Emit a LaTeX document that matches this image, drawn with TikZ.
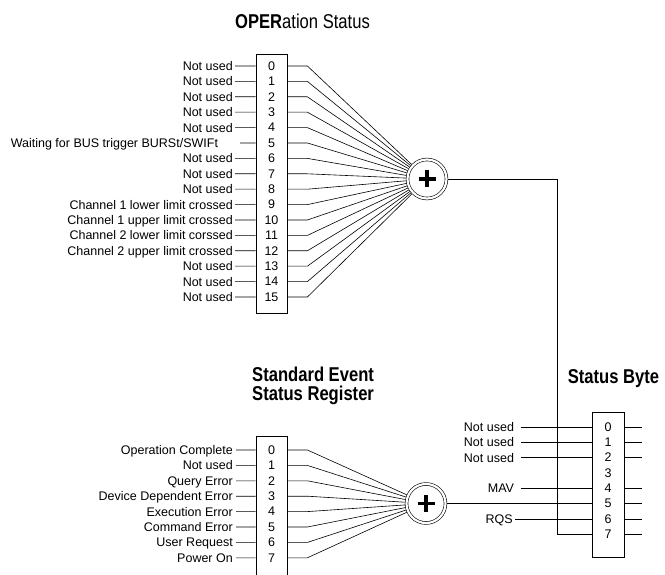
\documentclass[tikz,border=0pt]{standalone}
\usepackage{fontspec}
\setmainfont{Liberation Sans}
\newfontfamily\titlefont[FakeStretch=0.83]{Liberation Sans}

\tikzset{
  lab/.style={anchor=east, inner sep=2pt, text height=9pt, text depth=0pt, font=\fontsize{12.5}{14}\selectfont},
  bit/.style={inner sep=0pt, font=\fontsize{12.5}{14}\selectfont},
  wire/.style={line width=0.6pt},
  reg/.style={draw, line width=0.8pt, inner sep=0pt, minimum width=31pt},
  sum/.style={circle, draw, double, double distance=2.2pt, line width=0.6pt, minimum size=39pt, inner sep=0pt, outer sep=1.7pt},
  plus/.style={line width=3.4pt},
  title/.style={inner sep=0pt, font=\titlefont\fontsize{20}{19}\selectfont}
}

\begin{document}
\begin{tikzpicture}[x=1pt, y=-1pt]
  \useasboundingbox (0,0) rectangle (665,575);
  % titles
  \node[title, anchor=base] (optitle) at (302.5,29) {{\bfseries OPER}ation Status};
  \node[title, anchor=north west, align=left, font=\titlefont\bfseries\fontsize{20}{19}\selectfont] (estitle) at (252,366.5) {Standard Event\\Status Register};
  \node[title, anchor=base, font=\titlefont\bfseries\fontsize{20}{19}\selectfont] (sbtitle) at (613.5,383) {Status Byte};
  % OPERation status register
  \node[reg, minimum height=259pt] (obox) at (271.5,183.5) {};
  \node[sum] (osum) at (427,179) {};
  \draw[plus] ([xshift=-8.5pt]osum.center) -- ([xshift=8.5pt]osum.center);
  \draw[plus] ([yshift=-8.5pt]osum.center) -- ([yshift=8.5pt]osum.center);
  \node[lab] (ol0) at (235,66) {Not used}; \node[bit] (o0) at (271.5,66) {0};
  \draw[wire] (ol0.east) -- (obox.west |- o0) (obox.east |- o0) -- ++(20,0) -- (osum);
  \node[lab] (ol1) at (235,81.4) {Not used}; \node[bit] (o1) at (271.5,81.4) {1};
  \draw[wire] (ol1.east) -- (obox.west |- o1) (obox.east |- o1) -- ++(20,0) -- (osum);
  \node[lab] (ol2) at (235,96.8) {Not used}; \node[bit] (o2) at (271.5,96.8) {2};
  \draw[wire] (ol2.east) -- (obox.west |- o2) (obox.east |- o2) -- ++(20,0) -- (osum);
  \node[lab] (ol3) at (235,112.2) {Not used}; \node[bit] (o3) at (271.5,112.2) {3};
  \draw[wire] (ol3.east) -- (obox.west |- o3) (obox.east |- o3) -- ++(20,0) -- (osum);
  \node[lab] (ol4) at (235,127.6) {Not used}; \node[bit] (o4) at (271.5,127.6) {4};
  \draw[wire] (ol4.east) -- (obox.west |- o4) (obox.east |- o4) -- ++(20,0) -- (osum);
  \node[lab, outer xsep=20pt] (ol5) at (240,143) {Waiting for BUS trigger BURSt/SWIFt}; \node[bit] (o5) at (271.5,143) {5};
  \draw[wire] (ol5.east) -- (obox.west |- o5) (obox.east |- o5) -- ++(20,0) -- (osum);
  \node[lab] (ol6) at (235,158.4) {Not used}; \node[bit] (o6) at (271.5,158.4) {6};
  \draw[wire] (ol6.east) -- (obox.west |- o6) (obox.east |- o6) -- ++(20,0) -- (osum);
  \node[lab] (ol7) at (235,173.8) {Not used}; \node[bit] (o7) at (271.5,173.8) {7};
  \draw[wire] (ol7.east) -- (obox.west |- o7) (obox.east |- o7) -- ++(20,0) -- (osum);
  \node[lab] (ol8) at (235,189.2) {Not used}; \node[bit] (o8) at (271.5,189.2) {8};
  \draw[wire] (ol8.east) -- (obox.west |- o8) (obox.east |- o8) -- ++(20,0) -- (osum);
  \node[lab] (ol9) at (235,204.6) {Channel 1 lower limit crossed}; \node[bit] (o9) at (271.5,204.6) {9};
  \draw[wire] (ol9.east) -- (obox.west |- o9) (obox.east |- o9) -- ++(20,0) -- (osum);
  \node[lab] (ol10) at (235,220) {Channel 1 upper limit crossed}; \node[bit] (o10) at (271.5,220) {10};
  \draw[wire] (ol10.east) -- (obox.west |- o10) (obox.east |- o10) -- ++(20,0) -- (osum);
  \node[lab] (ol11) at (235,235.4) {Channel 2 lower limit corssed}; \node[bit] (o11) at (271.5,235.4) {11};
  \draw[wire] (ol11.east) -- (obox.west |- o11) (obox.east |- o11) -- ++(20,0) -- (osum);
  \node[lab] (ol12) at (235,250.8) {Channel 2 upper limit crossed}; \node[bit] (o12) at (271.5,250.8) {12};
  \draw[wire] (ol12.east) -- (obox.west |- o12) (obox.east |- o12) -- ++(20,0) -- (osum);
  \node[lab] (ol13) at (235,266.2) {Not used}; \node[bit] (o13) at (271.5,266.2) {13};
  \draw[wire] (ol13.east) -- (obox.west |- o13) (obox.east |- o13) -- ++(20,0) -- (osum);
  \node[lab] (ol14) at (235,281.6) {Not used}; \node[bit] (o14) at (271.5,281.6) {14};
  \draw[wire] (ol14.east) -- (obox.west |- o14) (obox.east |- o14) -- ++(20,0) -- (osum);
  \node[lab] (ol15) at (235,297) {Not used}; \node[bit] (o15) at (271.5,297) {15};
  \draw[wire] (ol15.east) -- (obox.west |- o15) (obox.east |- o15) -- ++(20,0) -- (osum);
  % standard event status register
  \node[reg, minimum height=150pt] (ebox) at (271.5,511) {};
  \node[sum] (esum) at (426,503.5) {};
  \draw[plus] ([xshift=-8.5pt]esum.center) -- ([xshift=8.5pt]esum.center);
  \draw[plus] ([yshift=-8.5pt]esum.center) -- ([yshift=8.5pt]esum.center);
  \node[lab, inner sep=3pt] (el0) at (236,450) {Operation Complete}; \node[bit] (e0) at (271.5,450) {0};
  \draw[wire] (el0.east) -- (ebox.west |- e0) (ebox.east |- e0) -- ++(20,0) -- (esum);
  \node[lab, inner sep=3pt] (el1) at (236,465.4) {Not used}; \node[bit] (e1) at (271.5,465.4) {1};
  \draw[wire] (el1.east) -- (ebox.west |- e1) (ebox.east |- e1) -- ++(20,0) -- (esum);
  \node[lab, inner sep=3pt] (el2) at (236,480.8) {Query Error}; \node[bit] (e2) at (271.5,480.8) {2};
  \draw[wire] (el2.east) -- (ebox.west |- e2) (ebox.east |- e2) -- ++(20,0) -- (esum);
  \node[lab, inner sep=3pt] (el3) at (236,496.2) {Device Dependent Error}; \node[bit] (e3) at (271.5,496.2) {3};
  \draw[wire] (el3.east) -- (ebox.west |- e3) (ebox.east |- e3) -- ++(20,0) -- (esum);
  \node[lab, inner sep=3pt] (el4) at (236,511.6) {Execution Error}; \node[bit] (e4) at (271.5,511.6) {4};
  \draw[wire] (el4.east) -- (ebox.west |- e4) (ebox.east |- e4) -- ++(20,0) -- (esum);
  \node[lab, inner sep=3pt] (el5) at (236,527) {Command Error}; \node[bit] (e5) at (271.5,527) {5};
  \draw[wire] (el5.east) -- (ebox.west |- e5) (ebox.east |- e5) -- ++(20,0) -- (esum);
  \node[lab, inner sep=3pt] (el6) at (236,542.4) {User Request}; \node[bit] (e6) at (271.5,542.4) {6};
  \draw[wire] (el6.east) -- (ebox.west |- e6) (ebox.east |- e6) -- ++(20,0) -- (esum);
  \node[lab, inner sep=3pt] (el7) at (236,557.8) {Power On}; \node[bit] (e7) at (271.5,557.8) {7};
  \draw[wire] (el7.east) -- (ebox.west |- e7) (ebox.east |- e7) -- ++(20,0) -- (esum);
  % status byte
  \node[reg, minimum width=32pt, minimum height=145pt] (sbox) at (608,484.5) {};
  \node[bit] (s0) at (608,427) {0};
  \node[bit] (s1) at (608,442.3) {1};
  \node[bit] (s2) at (608,457.6) {2};
  \node[bit] (s3) at (608,472.9) {3};
  \node[bit] (s4) at (608,488.2) {4};
  \node[bit] (s5) at (608,503.5) {5};
  \node[bit] (s6) at (608,518.8) {6};
  \node[bit] (s7) at (608,534.1) {7};
  \node[lab, outer xsep=5pt] (sl0) at (521,427) {Not used};
  \node[lab, outer xsep=5pt] (sl1) at (521,442.3) {Not used};
  \node[lab, outer xsep=5pt] (sl2) at (521,457.6) {Not used};
  \node[lab, outer xsep=5pt] (sl4) at (521,488.2) {MAV};
  \node[lab] (sl6) at (515,518.8) {RQS};
  \coordinate (turn) at (557,534.1);
  \draw[wire] (sl0.east) -- (sbox.west |- s0);
  \draw[wire] (sl1.east) -- (sbox.west |- s1);
  \draw[wire] (sl2.east) -- (sbox.west |- s2);
  \draw[wire] (sl4.east) -- (sbox.west |- s4);
  \draw[wire] (esum.east) -- (sbox.west |- s5);
  \draw[wire] (sl6.east) -- (sbox.west |- s6);
  \draw[wire] (osum.east) -| (turn) -- (sbox.west |- s7);
  \draw[wire] (sbox.east |- s0) -- ++(18,0);
  \draw[wire] (sbox.east |- s1) -- ++(18,0);
  \draw[wire] (sbox.east |- s2) -- ++(18,0);
  \draw[wire] (sbox.east |- s4) -- ++(18,0);
  \draw[wire] (sbox.east |- s5) -- ++(18,0);
  \draw[wire] (sbox.east |- s6) -- ++(18,0);
  \draw[wire] (sbox.east |- s7) -- ++(18,0);
\end{tikzpicture}
\end{document}
